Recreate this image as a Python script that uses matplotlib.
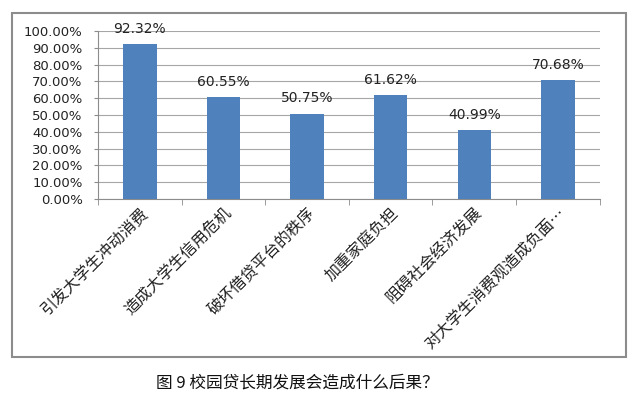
import matplotlib.pyplot as plt
from matplotlib.patches import Rectangle
from matplotlib.ticker import FuncFormatter

cn_font = ['Noto Sans CJK SC', 'DejaVu Sans']

categories = ["引发大学生冲动消费", "造成大学生信用危机", "破坏借贷平台的秩序",
              "加重家庭负担", "阻碍社会经济发展", "对大学生消费观造成负面…"]
values = [92.32, 60.55, 50.75, 61.62, 40.99, 70.68]
value_labels = ["92.32%", "60.55%", "50.75%", "61.62%", "40.99%", "70.68%"]
caption = "图 9 校园贷长期发展会造成什么后果？"

fig = plt.figure(figsize=(6.38, 3.97), dpi=100)

# outer chart frame
fig.patches.append(Rectangle((0.019, 0.101), 0.962, 0.866, transform=fig.transFigure,
                             fill=False, edgecolor="#8c8c8c", linewidth=1.5))

ax = fig.add_axes([0.1536, 0.4987, 0.7864, 0.4232])
x = list(range(len(categories)))
ax.bar(x, values, width=0.4, color="#4f81bd", zorder=3)

for xi, v, lab in zip(x, values, value_labels):
    ax.annotate(lab, (xi, v), xytext=(0, 6), textcoords="offset points",
                ha="center", va="bottom", fontsize=10, color="#222222", zorder=4)

ax.set_xlim(-0.5, len(categories) - 0.5)
ax.set_ylim(0, 100)
ax.set_yticks(range(0, 101, 10))
ax.yaxis.set_major_formatter(FuncFormatter(lambda v, p: "%.2f%%" % v))
ax.grid(axis="y", color="#a6a6a6", linewidth=0.8, zorder=0)

ax.set_xticks(x)
ax.set_xticklabels(categories, rotation=45, ha="right", rotation_mode="anchor",
                   family=cn_font, fontsize=11.5, color="#222222")
ax.set_xticks([i - 0.5 for i in range(len(categories) + 1)], minor=True)
ax.tick_params(axis="x", which="major", length=0, pad=4)
ax.tick_params(axis="x", which="minor", length=4, color="#8c8c8c")
ax.tick_params(axis="y", length=3, color="#8c8c8c", labelsize=9.5, labelcolor="#222222", pad=8)

for s in ["top", "right"]:
    ax.spines[s].set_visible(False)
for s in ["left", "bottom"]:
    ax.spines[s].set_color("#8c8c8c")

fig.text(0.466, 0.035, caption, ha="center", va="center", family=cn_font,
         fontsize=12, color="#111111")

fig.savefig("out.png", dpi=100)
